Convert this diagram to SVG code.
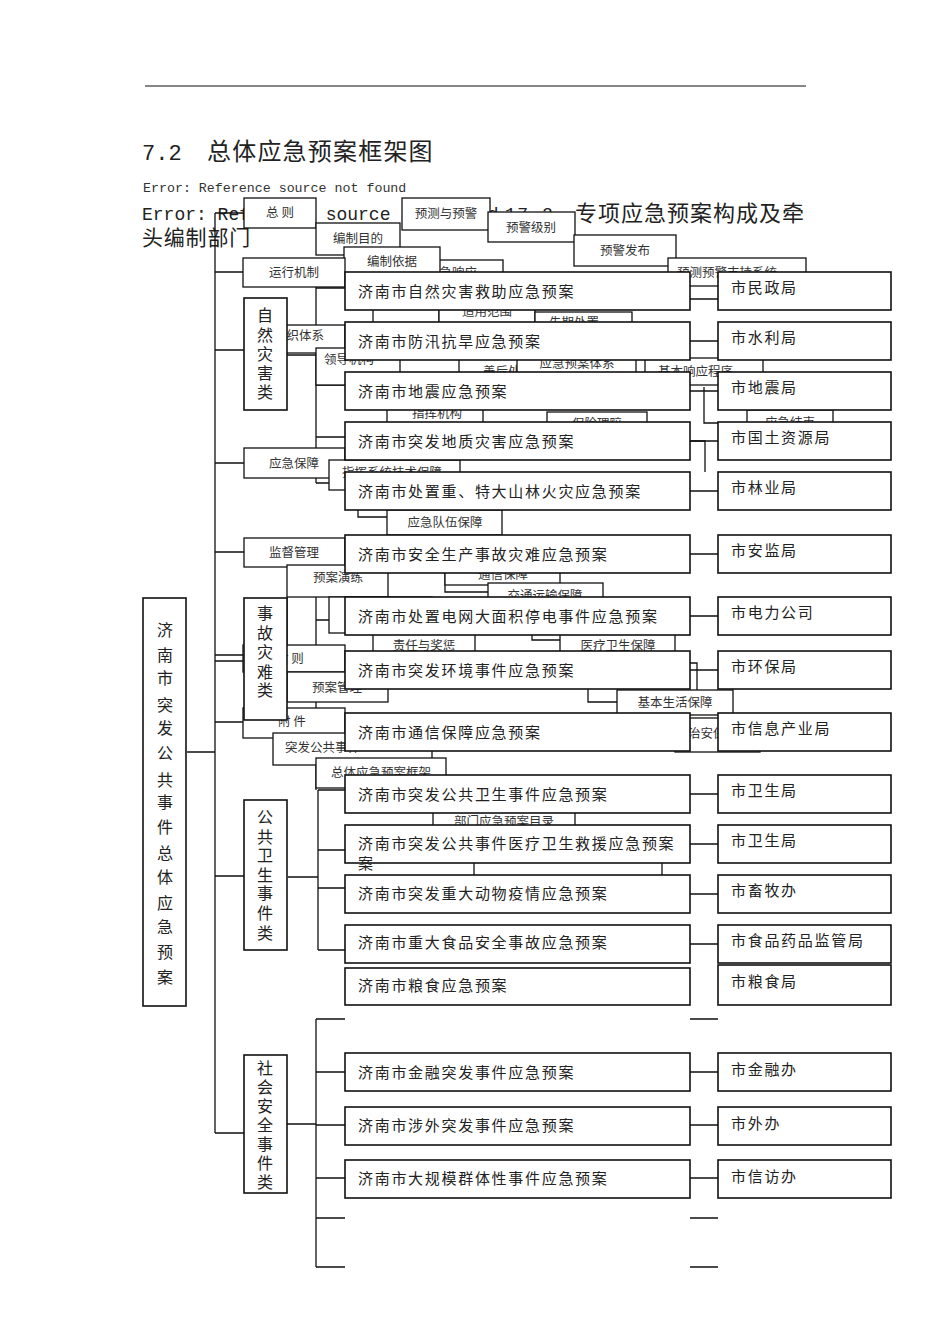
<svg xmlns="http://www.w3.org/2000/svg" width="950" height="1344" viewBox="0 0 950 1344">
<style>
.bg{fill:#fff}
.b{fill:#fff;stroke:#111;stroke-width:1.3}
.B{fill:#fff;stroke:#111;stroke-width:1.6}
.ln{fill:none;stroke:#111;stroke-width:1.3}
.cj{font-family:"Noto Sans CJK SC","Noto Sans",sans-serif}
.mo{font-family:"Liberation Mono","DejaVu Sans Mono",monospace}
.s{font-family:"Noto Sans CJK SC",sans-serif;font-size:12.5px;fill:#333;text-anchor:middle}
.sl{font-family:"Noto Sans CJK SC",sans-serif;font-size:12.5px;fill:#333}
.p{font-family:"Noto Sans CJK SC",sans-serif;font-size:15px;letter-spacing:1.7px;fill:#222}
.c{font-family:"Noto Sans CJK SC",sans-serif;font-size:16px;fill:#222;text-anchor:middle}
</style>
<rect class="bg" x="0" y="0" width="950" height="1344"/>
<g id="header">
<line x1="145" y1="86" x2="806" y2="86" stroke="#111" stroke-width="1.2"/>
<text class="mo" x="142" y="160" font-size="22" fill="#222">7.2</text>
<text class="cj" x="207" y="160" font-size="24" letter-spacing="1.2" fill="#222">总体应急预案框架图</text>
<text class="mo" x="143" y="192" font-size="13.3" fill="#333">Error: Reference source not found</text>
<text class="mo" x="142" y="220" font-size="18" fill="#222">Error: Reference source not found</text>
<text class="mo" x="505" y="220" font-size="18" letter-spacing="1.5" fill="#222">17.2</text>
<text class="cj" x="575" y="221" font-size="22" letter-spacing="1" fill="#222">专项应急预案构成及牵</text>
<text class="cj" x="142" y="245" font-size="21" letter-spacing="0.8" fill="#222">头编制部门</text>
</g>
<g id="connectors" class="ln">
<path d="M215,213 V1133 M215,213 H244 M215,272 H243 M215,350 H244 M215,463 H244 M215,552 H244 M215,655 H244 M215,661 H244 M215,722 H243 M187,752 H215 M215,876 H245 M215,1133 H244"/>
<path d="M316,287 V483 M316,288 H345 M316,338 H345 M316,385 H345 M316,437 H345 M316,483 H345 M287,355 H316"/>
<path d="M316,554 V790 M316,554 H345 M316,620 H345 M316,670 H345 M316,732 H345 M287,660 H316 M287,597 V672"/>
<path d="M318,790 V950 M318,790 H345 M318,850 H345 M318,888 H345 M318,950 H345 M288,877 H318"/>
<path d="M316,1019 V1267 M316,1019 H345 M316,1072 H345 M316,1125 H345 M316,1178 H345 M316,1218 H345 M316,1267 H345 M287,1124 H316"/>
<path d="M690,283 H718 M690,299 H718 M690,341 H718 M690,391 H718 M690,441 H718 M690,491 H718 M690,554 H718 M690,616 H718 M690,670 H718 M690,732 H718 M690,794 H718 M690,844 H718 M690,894 H718 M690,944 H718 M690,1019 H718 M690,1072 H718 M690,1125 H718 M690,1178 H718 M690,1218 H718 M690,1267 H718"/>
<path d="M704,387 V423 H718 M690,441 H705 V472 M690,663 H697 V690 M588,689 V702 H617 M445,573 V592 H488 M474,863 V875 M662,863 V875 M358,510 V517 H387 M532,635 V640 H560"/>
</g>
<g id="sub-boxes">
<g id="n-zongze"><rect class="b" x="244" y="198" width="72" height="30"/><text class="s" x="280" y="217">总 则</text></g>
<g id="n-yuce"><rect class="b" x="402" y="198" width="88" height="32"/><text class="s" x="446" y="218">预测与预警</text></g>
<g id="n-mudi"><rect class="b" x="316" y="223" width="84" height="32"/><text class="s" x="358" y="243">编制目的</text></g>
<g id="n-jibie"><rect class="b" x="488" y="212" width="87" height="30"/><text class="s" x="531" y="232">预警级别</text></g>
<g id="n-fabu"><rect class="b" x="574" y="235" width="102" height="31"/><text class="s" x="625" y="255">预警发布</text></g>
<g id="n-xiangying"><rect class="b" x="410" y="260" width="93" height="40"/><text class="sl" x="427" y="277">应急响应</text></g>
<g id="n-yiju"><rect class="b" x="344" y="247" width="96" height="26"/><text class="s" x="392" y="266">编制依据</text></g>
<g id="n-zhichi"><rect class="b" x="668" y="258" width="138" height="28"/><text class="sl" x="677" y="277">预测预警支持系统</text></g>
<g id="n-yunxing"><rect class="b" x="243" y="258" width="102" height="29"/><text class="s" x="294" y="277">运行机制</text></g>
<g id="n-blank1"><rect class="b" x="373" y="290" width="66" height="40"/></g>
<g id="n-fanwei"><rect class="b" x="439" y="296" width="96" height="34"/><text class="s" x="487" y="316">适用范围</text></g>
<g id="n-xianqi"><rect class="b" x="535" y="312" width="97" height="30"/><text class="s" x="574" y="327">先期处置</text></g>
<g id="n-zuzhi"><rect class="b" x="258" y="325" width="87" height="28"/><text class="sl" x="274" y="340">组织体系</text></g>
<g id="n-lingdao"><rect class="b" x="316" y="348" width="84" height="37"/><text class="s" x="349" y="364">领导机构</text></g>
<g id="n-shanhou"><rect class="b" x="459" y="355" width="101" height="30"/><text class="sl" x="483" y="376">善后处置</text></g>
<g id="n-tixi"><rect class="b" x="517" y="350" width="119" height="30"/><text class="s" x="577" y="368">应急预案体系</text></g>
<g id="n-chengxu"><rect class="b" x="645" y="358" width="118" height="27"/><text class="sl" x="658" y="376">基本响应程序</text></g>
<g id="n-zhihui"><rect class="b" x="387" y="395" width="96" height="35"/><text class="s" x="437" y="418">指挥机构</text></g>
<g id="n-baoxian"><rect class="b" x="547" y="412" width="100" height="28"/><text class="s" x="597" y="428">保险理赔</text></g>
<g id="n-jieshu"><rect class="b" x="747" y="410" width="86" height="30"/><text class="s" x="790" y="427">应急结束</text></g>
<g id="n-baozhang"><rect class="b" x="244" y="448" width="101" height="30"/><text class="s" x="294" y="468">应急保障</text></g>
<g id="n-jishu"><rect class="b" x="329" y="460" width="131" height="30"/><text class="sl" x="342" y="477">指挥系统技术保障</text></g>
<g id="n-duiwu"><rect class="b" x="387" y="510" width="115" height="25"/><text class="s" x="445" y="527">应急队伍保障</text></g>
<g id="n-jiandu"><rect class="b" x="244" y="538" width="101" height="29"/><text class="s" x="294" y="557">监督管理</text></g>
<g id="n-yanlian"><rect class="b" x="287" y="565" width="101" height="32"/><text class="s" x="338" y="582">预案演练</text></g>
<g id="n-tongxin"><rect class="b" x="445" y="560" width="115" height="25"/><text class="s" x="503" y="579">通信保障</text></g>
<g id="n-jiaotong"><rect class="b" x="488" y="583" width="115" height="28"/><text class="s" x="545" y="600">交通运输保障</text></g>
<g id="n-blank2"><rect class="b" x="329" y="597" width="103" height="36"/></g>
<g id="n-zeren"><rect class="b" x="373" y="630" width="102" height="30"/><text class="s" x="424" y="650">责任与奖惩</text></g>
<g id="n-yiliao"><rect class="b" x="560" y="632" width="115" height="28"/><text class="s" x="618" y="650">医疗卫生保障</text></g>
<g id="n-fuze"><rect class="b" x="243" y="645" width="102" height="27"/><text class="sl" x="276" y="663">附 则</text></g>
<g id="n-guanli"><rect class="b" x="287" y="672" width="101" height="30"/><text class="sl" x="312" y="692">预案管理</text></g>
<g id="n-shenghuo"><rect class="b" x="617" y="690" width="116" height="25"/><text class="s" x="675" y="707">基本生活保障</text></g>
<g id="n-fujian"><rect class="b" x="243" y="708" width="102" height="30"/><text class="sl" x="278" y="726">附 件</text></g>
<g id="n-zhian"><rect class="b" x="675" y="718" width="85" height="34"/><text class="sl" x="688" y="738">治安保障</text></g>
<g id="n-tufa"><rect class="b" x="273" y="733" width="159" height="32"/><text class="sl" x="285" y="752">突发公共事件</text></g>
<g id="n-kuangjia"><rect class="b" x="316" y="758" width="130" height="30"/><text class="s" x="381" y="777">总体应急预案框架</text></g>
<g id="n-mulu"><rect class="b" x="433" y="810" width="142" height="25"/><text class="s" x="504" y="826">部门应急预案目录</text></g>
</g>
<g id="n-main"><rect class="B" x="143" y="598" width="43" height="408"/>
<text class="c" font-size="16"><tspan x="165" y="636">济</tspan><tspan x="165" y="661">南</tspan><tspan x="165" y="684">市</tspan><tspan x="165" y="711">突</tspan><tspan x="165" y="734">发</tspan><tspan x="165" y="759">公</tspan><tspan x="165" y="786">共</tspan><tspan x="165" y="808">事</tspan><tspan x="165" y="833">件</tspan><tspan x="165" y="859">总</tspan><tspan x="165" y="883">体</tspan><tspan x="165" y="909">应</tspan><tspan x="165" y="933">急</tspan><tspan x="165" y="958">预</tspan><tspan x="165" y="983">案</tspan></text></g>
<g id="n-cat1"><rect class="B" x="244" y="298" width="43" height="112"/>
<text class="c"><tspan x="265" y="321">自</tspan><tspan x="265" y="341">然</tspan><tspan x="265" y="360">灾</tspan><tspan x="265" y="379">害</tspan><tspan x="265" y="398">类</tspan></text></g>
<g id="n-cat2"><rect class="B" x="244" y="598" width="43" height="122"/>
<text class="c"><tspan x="265" y="619">事</tspan><tspan x="265" y="639">故</tspan><tspan x="265" y="658">灾</tspan><tspan x="265" y="678">难</tspan><tspan x="265" y="696">类</tspan></text></g>
<g id="n-cat3"><rect class="B" x="244" y="800" width="43" height="150"/>
<text class="c"><tspan x="265" y="823">公</tspan><tspan x="265" y="843">共</tspan><tspan x="265" y="861">卫</tspan><tspan x="265" y="881">生</tspan><tspan x="265" y="899">事</tspan><tspan x="265" y="919">件</tspan><tspan x="265" y="939">类</tspan></text></g>
<g id="n-cat4"><rect class="B" x="244" y="1055" width="43" height="138"/>
<text class="c" font-size="15"><tspan x="265" y="1074">社</tspan><tspan x="265" y="1093">会</tspan><tspan x="265" y="1112">安</tspan><tspan x="265" y="1131">全</tspan><tspan x="265" y="1150">事</tspan><tspan x="265" y="1169">件</tspan><tspan x="265" y="1188">类</tspan></text></g>
<g id="plans">
<g id="p1"><rect class="B" x="345" y="272" width="345" height="38"/><text class="p" x="358" y="297">济南市自然灾害救助应急预案</text></g>
<g id="p2"><rect class="B" x="345" y="322" width="345" height="38"/><text class="p" x="358" y="347">济南市防汛抗旱应急预案</text></g>
<g id="p3"><rect class="B" x="345" y="372" width="345" height="38"/><text class="p" x="358" y="397">济南市地震应急预案</text></g>
<g id="p4"><rect class="B" x="345" y="422" width="345" height="38"/><text class="p" x="358" y="447">济南市突发地质灾害应急预案</text></g>
<g id="p5"><rect class="B" x="345" y="472" width="345" height="38"/><text class="p" x="358" y="497">济南市处置重、特大山林火灾应急预案</text></g>
<g id="p6"><rect class="B" x="345" y="535" width="345" height="38"/><text class="p" x="358" y="560">济南市安全生产事故灾难应急预案</text></g>
<g id="p7"><rect class="B" x="345" y="597" width="345" height="38"/><text class="p" x="358" y="622">济南市处置电网大面积停电事件应急预案</text></g>
<g id="p8"><rect class="B" x="345" y="651" width="345" height="38"/><text class="p" x="358" y="676">济南市突发环境事件应急预案</text></g>
<g id="p9"><rect class="B" x="345" y="713" width="345" height="38"/><text class="p" x="358" y="738">济南市通信保障应急预案</text></g>
<g id="p10"><rect class="B" x="345" y="775" width="345" height="38"/><text class="p" x="358" y="800">济南市突发公共卫生事件应急预案</text></g>
<g id="p11"><rect class="B" x="345" y="825" width="345" height="38"/><text class="p" x="358" y="849">济南市突发公共事件医疗卫生救援应急预案</text><text class="p" x="358" y="869">案</text></g>
<g id="p12"><rect class="B" x="345" y="875" width="345" height="38"/><text class="p" x="358" y="899">济南市突发重大动物疫情应急预案</text></g>
<g id="p13"><rect class="B" x="345" y="925" width="345" height="38"/><text class="p" x="358" y="948">济南市重大食品安全事故应急预案</text></g>
<g id="p14"><rect class="B" x="345" y="968" width="345" height="37"/><text class="p" x="358" y="991">济南市粮食应急预案</text></g>
<g id="p15"><rect class="B" x="345" y="1053" width="345" height="38"/><text class="p" x="358" y="1078">济南市金融突发事件应急预案</text></g>
<g id="p16"><rect class="B" x="345" y="1107" width="345" height="38"/><text class="p" x="358" y="1131">济南市涉外突发事件应急预案</text></g>
<g id="p17"><rect class="B" x="345" y="1160" width="345" height="38"/><text class="p" x="358" y="1184">济南市大规模群体性事件应急预案</text></g>
</g>
<g id="agencies">
<g id="a1"><rect class="B" x="718" y="272" width="173" height="38"/><text class="p" x="731" y="293">市民政局</text></g>
<g id="a2"><rect class="B" x="718" y="322" width="173" height="38"/><text class="p" x="731" y="343">市水利局</text></g>
<g id="a3"><rect class="B" x="718" y="372" width="173" height="38"/><text class="p" x="731" y="393">市地震局</text></g>
<g id="a4"><rect class="B" x="718" y="422" width="173" height="38"/><text class="p" x="731" y="443">市国土资源局</text></g>
<g id="a5"><rect class="B" x="718" y="472" width="173" height="38"/><text class="p" x="731" y="493">市林业局</text></g>
<g id="a6"><rect class="B" x="718" y="535" width="173" height="38"/><text class="p" x="731" y="556">市安监局</text></g>
<g id="a7"><rect class="B" x="718" y="597" width="173" height="38"/><text class="p" x="731" y="618">市电力公司</text></g>
<g id="a8"><rect class="B" x="718" y="651" width="173" height="38"/><text class="p" x="731" y="672">市环保局</text></g>
<g id="a9"><rect class="B" x="718" y="713" width="173" height="38"/><text class="p" x="731" y="734">市信息产业局</text></g>
<g id="a10"><rect class="B" x="718" y="775" width="173" height="38"/><text class="p" x="731" y="796">市卫生局</text></g>
<g id="a11"><rect class="B" x="718" y="825" width="173" height="38"/><text class="p" x="731" y="846">市卫生局</text></g>
<g id="a12"><rect class="B" x="718" y="875" width="173" height="38"/><text class="p" x="731" y="896">市畜牧办</text></g>
<g id="a13"><rect class="B" x="718" y="925" width="173" height="38"/><text class="p" x="731" y="946">市食品药品监管局</text></g>
<g id="a14"><rect class="B" x="718" y="965" width="173" height="40"/><text class="p" x="731" y="987">市粮食局</text></g>
<g id="a15"><rect class="B" x="718" y="1053" width="173" height="38"/><text class="p" x="731" y="1075">市金融办</text></g>
<g id="a16"><rect class="B" x="718" y="1107" width="173" height="38"/><text class="p" x="731" y="1129">市外办</text></g>
<g id="a17"><rect class="B" x="718" y="1160" width="173" height="38"/><text class="p" x="731" y="1182">市信访办</text></g>
</g>
</svg>
